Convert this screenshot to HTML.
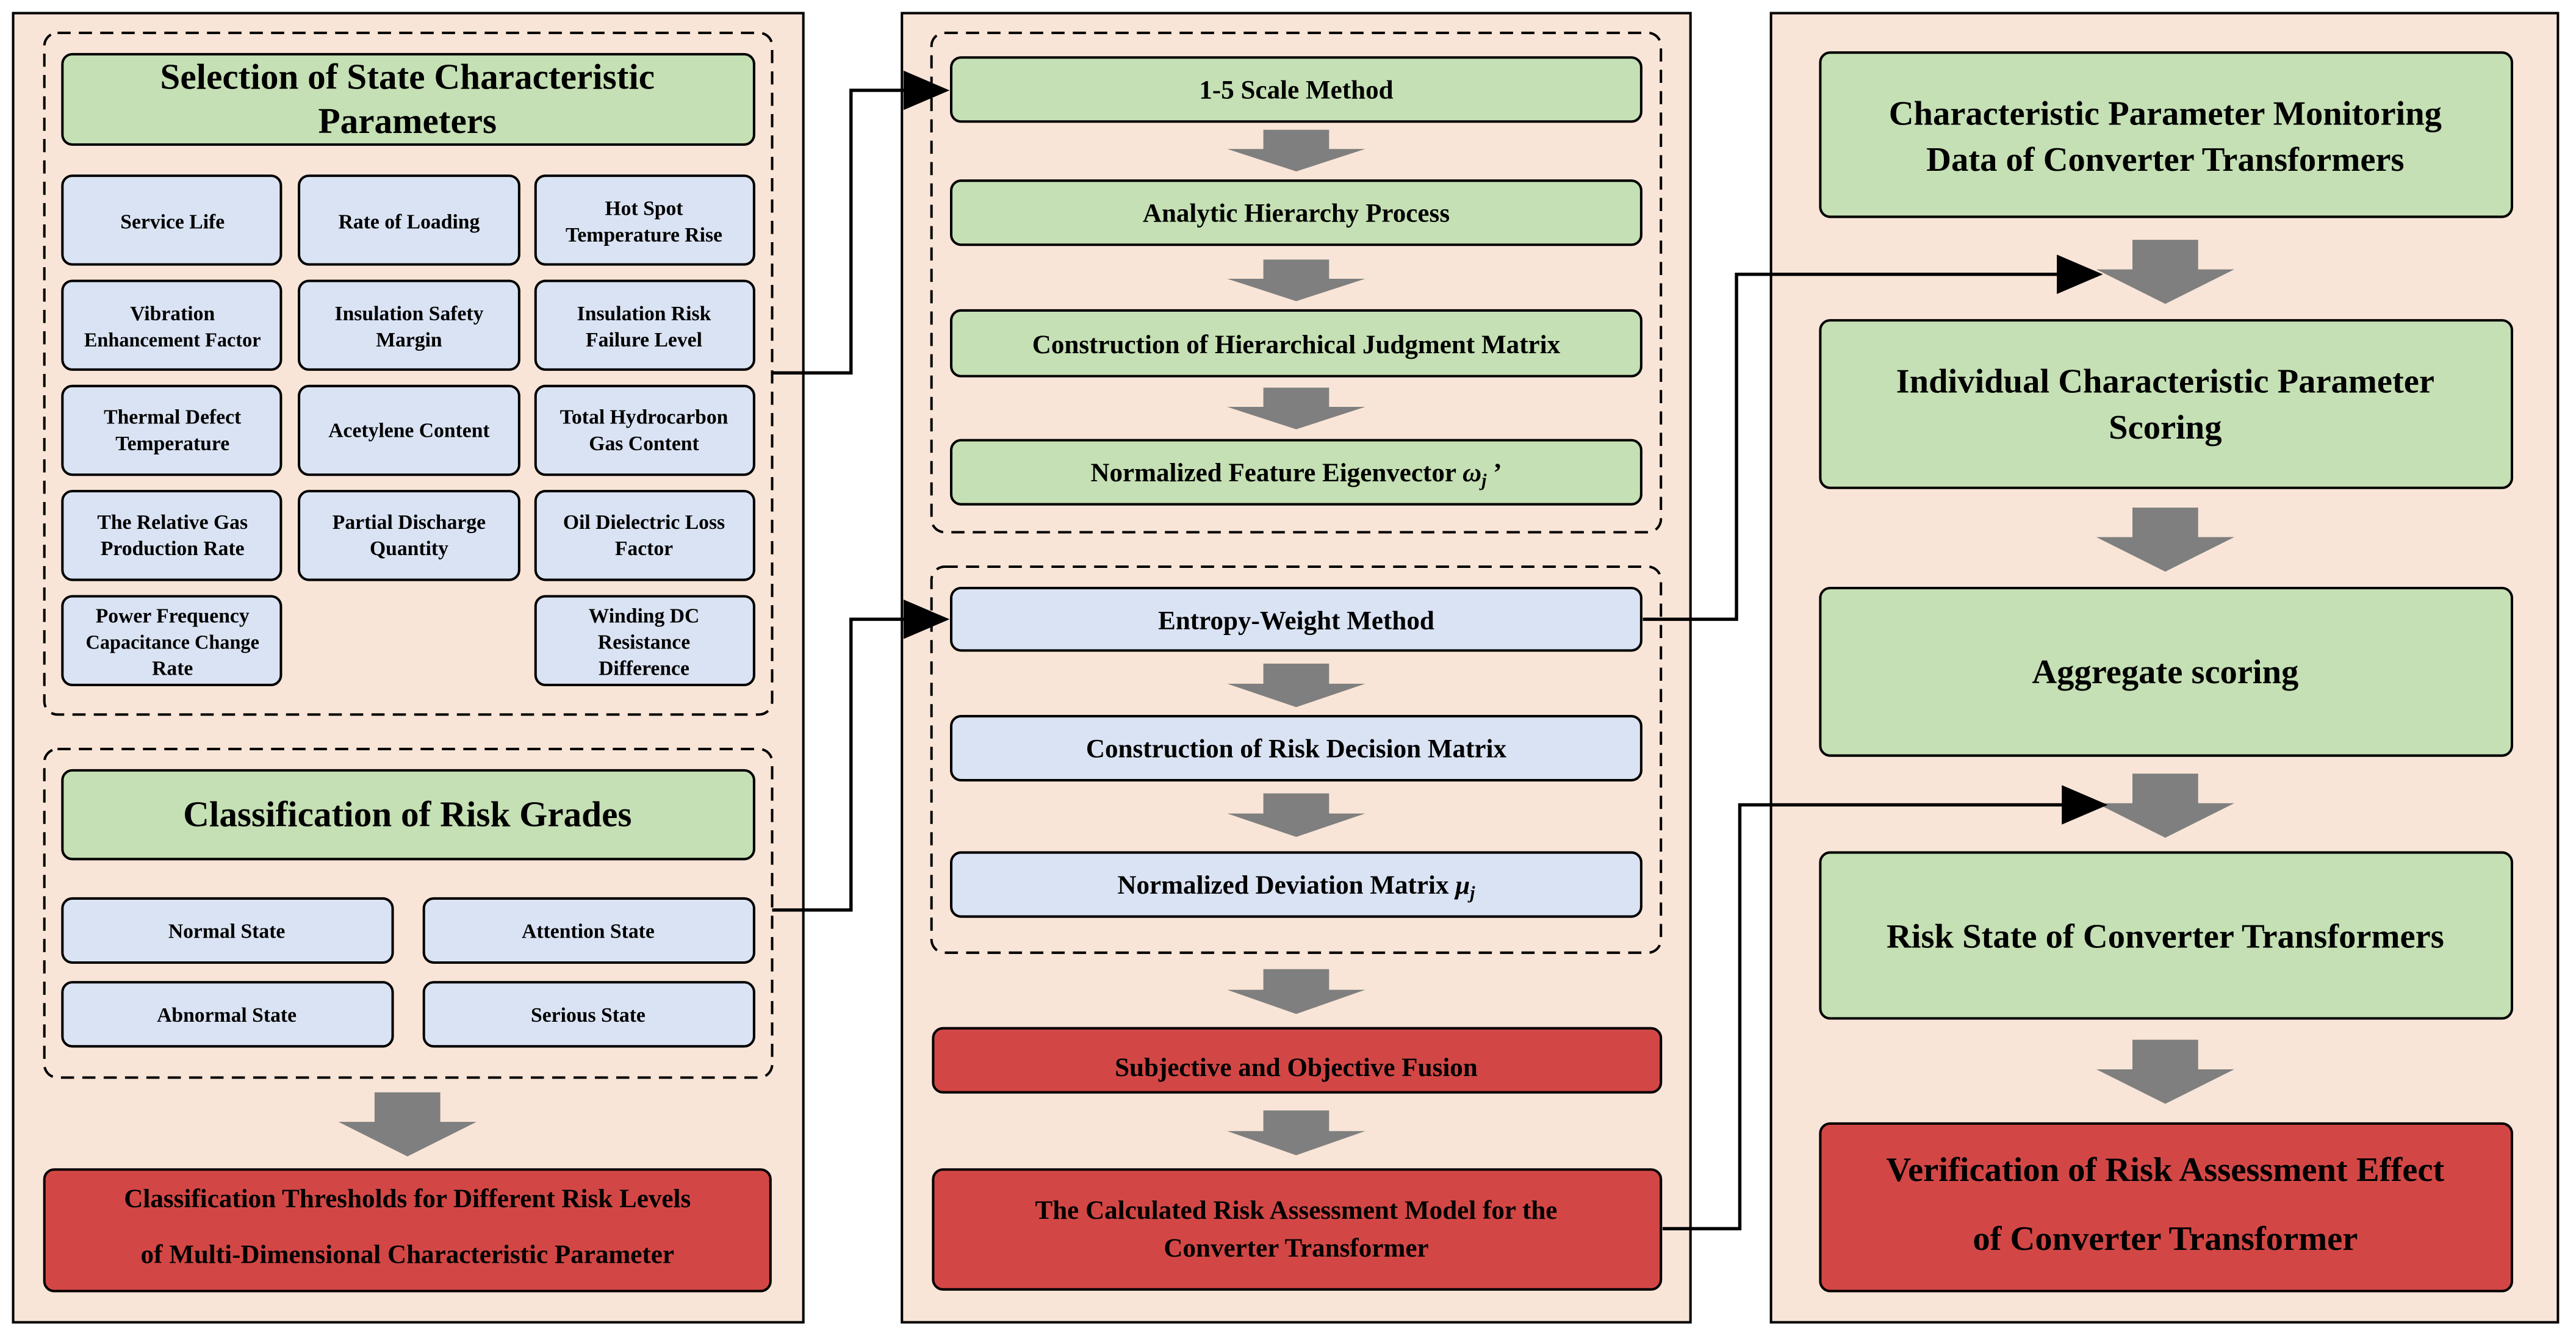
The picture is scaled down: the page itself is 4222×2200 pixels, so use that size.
<!DOCTYPE html>
<html><head><meta charset="utf-8"><style>html,body{margin:0;padding:0;background:#fff}svg{display:block}</style></head><body>
<svg xmlns="http://www.w3.org/2000/svg" width="4222" height="2200" viewBox="0 0 1568 817" preserveAspectRatio="none" font-family="'Liberation Serif', serif" font-weight="bold">
<defs>
<g id="ga"><polygon points="-20,0 20,0 20,18 42,18 0,39 -42,18 -20,18" fill="#7f7f7f"/></g>
</defs>
<rect width="1568" height="817" fill="#fff"/>
<g fill="#f9e5d7" stroke="#000" stroke-width="1.5">
<rect x="8" y="8" width="481" height="797"/>
<rect x="549" y="8" width="480" height="797"/>
<rect x="1078" y="8" width="479" height="797"/>
</g>
<g fill="none" stroke="#000" stroke-width="1.5" stroke-dasharray="8,5">
<rect x="27" y="20" width="443" height="415" rx="8"/>
<rect x="27" y="456" width="443" height="200" rx="8"/>
<rect x="567" y="20" width="444" height="304" rx="8"/>
<rect x="567" y="345" width="444" height="235" rx="8"/>
</g>
<g stroke="#000" stroke-width="1.5">
<rect x="38" y="33" width="421" height="55" rx="6" fill="#c5e0b4"/>
<g fill="#dae3f3">
<rect x="38" y="107" width="133" height="54" rx="6"/><rect x="182" y="107" width="134" height="54" rx="6"/><rect x="326" y="107" width="133" height="54" rx="6"/>
<rect x="38" y="171" width="133" height="54" rx="6"/><rect x="182" y="171" width="134" height="54" rx="6"/><rect x="326" y="171" width="133" height="54" rx="6"/>
<rect x="38" y="235" width="133" height="54" rx="6"/><rect x="182" y="235" width="134" height="54" rx="6"/><rect x="326" y="235" width="133" height="54" rx="6"/>
<rect x="38" y="299" width="133" height="54" rx="6"/><rect x="182" y="299" width="134" height="54" rx="6"/><rect x="326" y="299" width="133" height="54" rx="6"/>
<rect x="38" y="363" width="133" height="54" rx="6"/><rect x="326" y="363" width="133" height="54" rx="6"/>
<rect x="38" y="547" width="201" height="39" rx="6"/><rect x="258" y="547" width="201" height="39" rx="6"/>
<rect x="38" y="598" width="201" height="39" rx="6"/><rect x="258" y="598" width="201" height="39" rx="6"/>
</g>
<rect x="38" y="469" width="421" height="54" rx="6" fill="#c5e0b4"/>
<rect x="27" y="712" width="442" height="74" rx="6" fill="#d24745"/>
<g fill="#c5e0b4">
<rect x="579" y="35" width="420" height="39" rx="6"/><rect x="579" y="110" width="420" height="39" rx="6"/>
<rect x="579" y="189" width="420" height="40" rx="6"/><rect x="579" y="268" width="420" height="39" rx="6"/>
</g>
<g fill="#dae3f3">
<rect x="579" y="358" width="420" height="38" rx="6"/><rect x="579" y="436" width="420" height="39" rx="6"/><rect x="579" y="519" width="420" height="39" rx="6"/>
</g>
<rect x="568" y="626" width="443" height="39" rx="6" fill="#d24745"/>
<rect x="568" y="712" width="443" height="73" rx="6" fill="#d24745"/>
<g fill="#c5e0b4">
<rect x="1108" y="32" width="421" height="100" rx="6"/><rect x="1108" y="195" width="421" height="102" rx="6"/>
<rect x="1108" y="358" width="421" height="102" rx="6"/><rect x="1108" y="519" width="421" height="101" rx="6"/>
</g>
<rect x="1108" y="684" width="421" height="102" rx="6" fill="#d24745"/>
</g>
<use href="#ga" x="248" y="665"/>
<use href="#ga" x="789" y="79" transform="translate(789,79) scale(1,0.65) translate(-789,-79)"/>
<use href="#ga" x="789" y="158" transform="translate(789,158) scale(1,0.65) translate(-789,-158)"/>
<use href="#ga" x="789" y="236" transform="translate(789,236) scale(1,0.65) translate(-789,-236)"/>
<use href="#ga" x="789" y="404" transform="translate(789,404) scale(1,0.68) translate(-789,-404)"/>
<use href="#ga" x="789" y="483" transform="translate(789,483) scale(1,0.68) translate(-789,-483)"/>
<use href="#ga" x="789" y="590" transform="translate(789,590) scale(1,0.7) translate(-789,-590)"/>
<use href="#ga" x="789" y="676" transform="translate(789,676) scale(1,0.7) translate(-789,-676)"/>
<use href="#ga" x="1318" y="146"/>
<use href="#ga" x="1318" y="309"/>
<use href="#ga" x="1318" y="471"/>
<use href="#ga" x="1318" y="633"/>
<g fill="none" stroke="#000" stroke-width="2">
<polyline points="470,227 518,227 518,55 552,55"/>
<polyline points="470,554 518,554 518,377 552,377"/>
<polyline points="1000,377 1057,377 1057,167 1253,167"/>
<polyline points="1012,748 1059,748 1059,490 1256,490"/>
</g>
<g fill="#000">
<polygon points="550,43 578,55 550,67"/>
<polygon points="550,365 578,377 550,389"/>
<polygon points="1252,155 1280,167 1252,179"/>
<polygon points="1255,478 1283,490 1255,502"/>
</g>
<g text-anchor="middle" fill="#000">
<text x="248" y="54" font-size="22">Selection of State Characteristic</text>
<text x="248" y="81" font-size="22">Parameters</text>
<g font-size="12.5">
<text x="105" y="139">Service Life</text>
<text x="249" y="139">Rate of Loading</text>
<text x="392" y="131">Hot Spot</text><text x="392" y="147">Temperature Rise</text>
<text x="105" y="195">Vibration</text><text x="105" y="211" font-size="12">Enhancement Factor</text>
<text x="249" y="195">Insulation Safety</text><text x="249" y="211">Margin</text>
<text x="392" y="195">Insulation Risk</text><text x="392" y="211">Failure Level</text>
<text x="105" y="258">Thermal Defect</text><text x="105" y="274">Temperature</text>
<text x="249" y="266">Acetylene Content</text>
<text x="392" y="258">Total Hydrocarbon</text><text x="392" y="274">Gas Content</text>
<text x="105" y="322">The Relative Gas</text><text x="105" y="338">Production Rate</text>
<text x="249" y="322">Partial Discharge</text><text x="249" y="338">Quantity</text>
<text x="392" y="322">Oil Dielectric Loss</text><text x="392" y="338">Factor</text>
<text x="105" y="379">Power Frequency</text><text x="105" y="395" font-size="12">Capacitance Change</text><text x="105" y="411">Rate</text>
<text x="392" y="379">Winding DC</text><text x="392" y="395">Resistance</text><text x="392" y="411">Difference</text>
<text x="138" y="571">Normal State</text><text x="358" y="571">Attention State</text>
<text x="138" y="622">Abnormal State</text><text x="358" y="622">Serious State</text>
</g>
<text x="248" y="503" font-size="22">Classification of Risk Grades</text>
<text x="248" y="735" font-size="16">Classification Thresholds for Different Risk Levels</text>
<text x="248" y="769" font-size="16">of Multi-Dimensional Characteristic Parameter</text>
<g font-size="16">
<text x="789" y="60">1-5 Scale Method</text>
<text x="789" y="135">Analytic Hierarchy Process</text>
<text x="789" y="215">Construction of Hierarchical Judgment Matrix</text>
<text x="789" y="293">Normalized Feature Eigenvector <tspan font-style="italic">ω</tspan><tspan font-style="italic" font-size="11" dy="3">j</tspan><tspan dy="-3"> ’</tspan></text>
<text x="789" y="383">Entropy-Weight Method</text>
<text x="789" y="461">Construction of Risk Decision Matrix</text>
<text x="789" y="544">Normalized Deviation Matrix <tspan font-style="italic">μ</tspan><tspan font-style="italic" font-size="11" dy="3">j</tspan></text>
<text x="789" y="655">Subjective and Objective Fusion</text>
<text x="789" y="742">The Calculated Risk Assessment Model for the</text>
<text x="789" y="765">Converter Transformer</text>
</g>
<g font-size="21">
<text x="1318" y="76">Characteristic Parameter Monitoring</text>
<text x="1318" y="104">Data of Converter Transformers</text>
<text x="1318" y="239">Individual Characteristic Parameter</text>
<text x="1318" y="267">Scoring</text>
<text x="1318" y="416">Aggregate scoring</text>
<text x="1318" y="577">Risk State of Converter Transformers</text>
<text x="1318" y="719">Verification of Risk Assessment Effect</text>
<text x="1318" y="761">of Converter Transformer</text>
</g>
</g>
</svg>
</body></html>
